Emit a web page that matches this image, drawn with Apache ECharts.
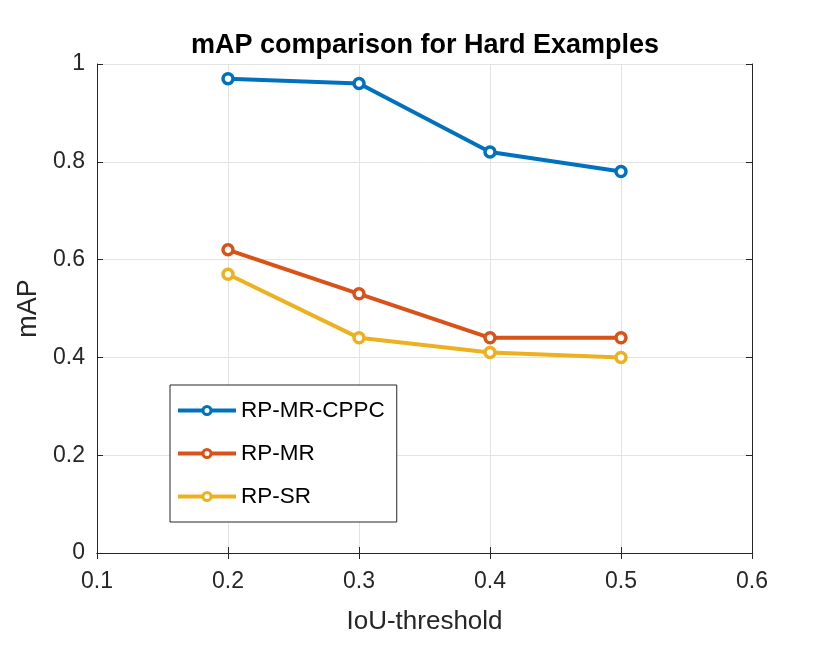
<!DOCTYPE html>
<html><head><meta charset="utf-8">
<script src="https://cdn.jsdelivr.net/npm/echarts@6/dist/echarts.min.js"></script>
<style>html,body{margin:0;padding:0;background:#fff}#c{width:831px;height:648px}</style>
</head><body><div id="c"></div>
<script>
const xValues = [0.2, 0.3, 0.4, 0.5];
const seriesNames = ['RP-MR-CPPC', 'RP-MR', 'RP-SR'];
const cppc = [0.97, 0.96, 0.82, 0.78];
const mr = [0.62, 0.53, 0.44, 0.44];
const sr = [0.57, 0.44, 0.41, 0.40];
const colors = ['#0072BD', '#D95319', '#EDB120'];

const chart = echarts.init(document.getElementById('c'));
const font = '"Liberation Sans", Arial, Helvetica, sans-serif';
function mk(name, vals, color) {
  return {
    name: name, type: 'line', xAxisIndex: 0, yAxisIndex: 0,
    data: xValues.map((x, i) => [x, vals[i]]),
    symbol: 'circle', symbolSize: 10,
    lineStyle: {color: color, width: 4},
    itemStyle: {color: '#fff', borderColor: color, borderWidth: 3.5},
    emphasis: {disabled: true}
  };
}
const axisLine = {show: true, lineStyle: {color: '#262626', width: 1}};
chart.setOption({
  animation: false,
  title: {text: 'mAP comparison for Hard Examples', left: 420, textAlign: 'center', top: 27,
    textStyle: {fontFamily: font, fontWeight: 'bold', fontSize: 27, color: '#000'}},
  grid: {left: 97, top: 64, width: 655, height: 489, containLabel: false},
  legend: {
    orient: 'vertical', left: 170, top: 385,
    data: seriesNames,
    itemWidth: 58, itemHeight: 10, itemGap: 20,
    padding: [14, 12, 14, 6],
    borderColor: '#262626', borderWidth: 1, backgroundColor: '#fff',
    lineStyle: {width: 4},
    itemStyle: {borderWidth: 3},
    textStyle: {fontFamily: font, fontSize: 22.5, color: '#000'}
  },
  xAxis: [
    {type: 'value', min: 0.1, max: 0.6, interval: 0.1, position: 'bottom',
      name: 'IoU-threshold', nameLocation: 'middle', nameGap: 56,
      nameTextStyle: {fontFamily: font, fontSize: 26, color: '#262626'},
      axisLine: axisLine, axisTick: {inside: true, length: 6, lineStyle: {color: '#262626'}},
      axisLabel: {fontFamily: font, fontSize: 23, color: '#262626', margin: 17,
        formatter: v => v.toFixed(1)},
      splitLine: {show: true, lineStyle: {color: '#e3e3e3', width: 1}}},
    {type: 'value', min: 0.1, max: 0.6, interval: 0.1, position: 'top',
      axisLine: axisLine, axisTick: {inside: true, length: 6, lineStyle: {color: '#262626'}},
      axisLabel: {show: false}, splitLine: {show: false}}
  ],
  yAxis: [
    {type: 'value', min: 0, max: 1, interval: 0.2, position: 'left',
      name: 'mAP', nameLocation: 'middle', nameGap: 52,
      nameTextStyle: {fontFamily: font, fontSize: 27, color: '#262626'},
      axisLine: axisLine, axisTick: {inside: true, length: 6, lineStyle: {color: '#262626'}},
      axisLabel: {fontFamily: font, fontSize: 23, color: '#262626', margin: 12},
      splitLine: {show: true, lineStyle: {color: '#e3e3e3', width: 1}}},
    {type: 'value', min: 0, max: 1, interval: 0.2, position: 'right',
      axisLine: axisLine, axisTick: {inside: true, length: 6, lineStyle: {color: '#262626'}},
      axisLabel: {show: false}, splitLine: {show: false}}
  ],
  series: [mk(seriesNames[0], cppc, colors[0]), mk(seriesNames[1], mr, colors[1]), mk(seriesNames[2], sr, colors[2])]
});
</script></body></html>
